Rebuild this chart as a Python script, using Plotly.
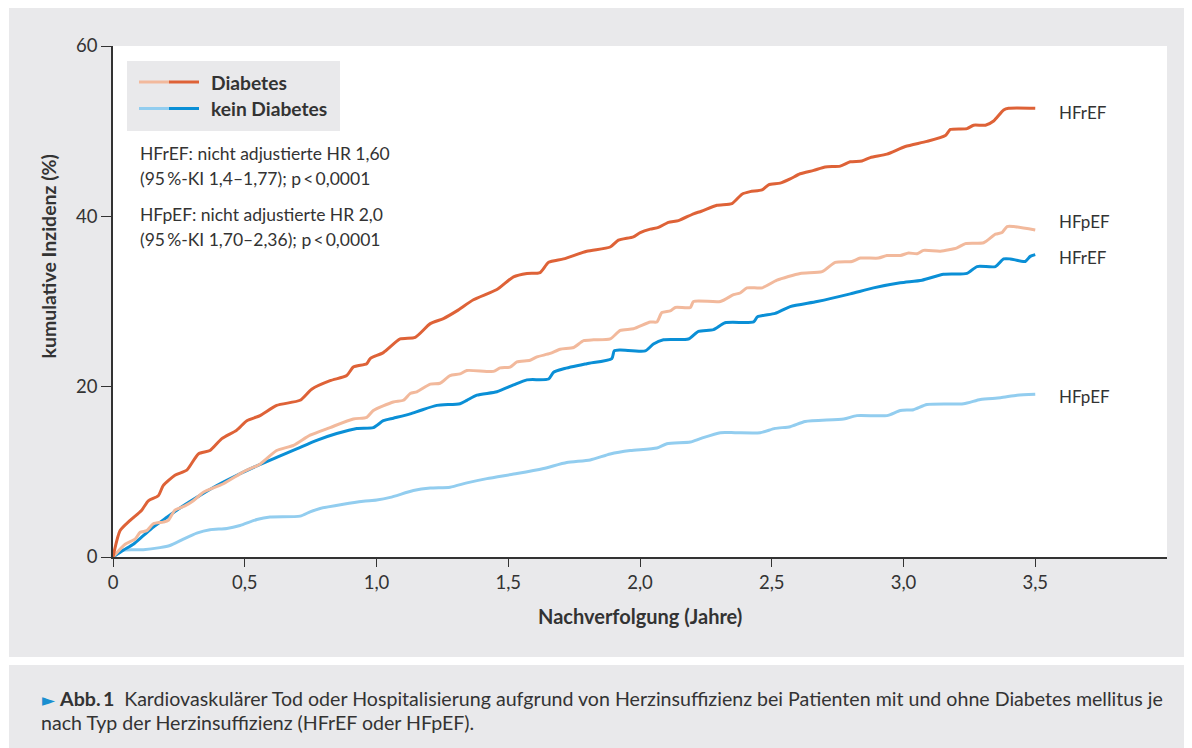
import plotly.graph_objects as go

# ---------------- data ----------------
years_dm_hfref = [0, 0.027, 0.065, 0.109, 0.134, 0.172, 0.191, 0.235, 0.28, 0.324,
                  0.368, 0.413, 0.47, 0.508, 0.558, 0.621, 0.71, 0.754, 0.824, 0.887,
                  0.912, 0.963, 0.976, 1.026, 1.09, 1.147, 1.204, 1.254, 1.305, 1.368,
                  1.457, 1.52, 1.571, 1.621, 1.653, 1.71, 1.798, 1.887, 1.918, 1.975,
                  2.001, 2.039, 2.07, 2.108, 2.146, 2.203, 2.233, 2.292, 2.349, 2.387,
                  2.418, 2.463, 2.488, 2.532, 2.57, 2.608, 2.659, 2.703, 2.76, 2.798,
                  2.842, 2.874, 2.937, 3.007, 3.089, 3.159, 3.178, 3.241, 3.266, 3.311,
                  3.342, 3.38, 3.399, 3.5]
inc_dm_hfref = [0, 3.1, 4.3, 5.5, 6.6, 7.2, 8.4, 9.6, 10.2, 12.1,
                12.5, 13.9, 14.9, 16.0, 16.6, 17.8, 18.4, 19.7, 20.7, 21.3,
                22.3, 22.7, 23.3, 24.0, 25.6, 25.8, 27.4, 28.0, 28.9, 30.2,
                31.4, 32.9, 33.3, 33.4, 34.6, 35.0, 35.9, 36.4, 37.2, 37.6,
                38.1, 38.5, 38.7, 39.3, 39.5, 40.3, 40.6, 41.3, 41.5, 42.6,
                42.9, 43.1, 43.7, 43.9, 44.4, 45.0, 45.4, 45.8, 45.9, 46.4,
                46.5, 46.9, 47.3, 48.2, 48.8, 49.5, 50.2, 50.3, 50.7, 50.7,
                51.2, 52.5, 52.7, 52.7]

years_dm_hfpef = [0, 0.046, 0.084, 0.103, 0.128, 0.153, 0.191, 0.21, 0.235, 0.273,
                  0.305, 0.343, 0.419, 0.495, 0.558, 0.621, 0.685, 0.748, 0.824, 0.912,
                  0.963, 0.988, 1.064, 1.102, 1.128, 1.153, 1.204, 1.241, 1.279, 1.317,
                  1.343, 1.444, 1.469, 1.507, 1.533, 1.583, 1.609, 1.659, 1.697, 1.748,
                  1.786, 1.824, 1.887, 1.925, 1.975, 2.039, 2.064, 2.083, 2.115, 2.134,
                  2.191, 2.203, 2.305, 2.355, 2.38, 2.406, 2.463, 2.52, 2.608, 2.691,
                  2.741, 2.804, 2.836, 2.905, 2.937, 2.988, 3.019, 3.051, 3.076, 3.14,
                  3.203, 3.235, 3.304, 3.349, 3.374, 3.393, 3.418, 3.5]
inc_dm_hfpef = [0, 1.5, 2.1, 2.9, 3.1, 3.9, 4.1, 4.3, 5.5, 6.0,
                6.6, 7.6, 8.6, 10.0, 10.9, 12.5, 13.1, 14.3, 15.2, 16.2,
                16.4, 17.2, 18.2, 18.4, 19.2, 19.4, 20.3, 20.4, 21.3, 21.5,
                21.9, 21.8, 22.2, 22.3, 22.9, 23.1, 23.5, 23.9, 24.4, 24.6,
                25.4, 25.5, 25.6, 26.6, 26.8, 27.6, 27.6, 28.7, 28.9, 29.3,
                29.3, 30.0, 30.0, 30.8, 31.0, 31.6, 31.6, 32.5, 33.3, 33.5,
                34.6, 34.7, 35.1, 35.1, 35.4, 35.4, 35.7, 35.6, 36.0, 35.9,
                36.3, 36.8, 36.9, 37.9, 38.1, 38.8, 38.8, 38.4]

years_nodm_hfref = [0, 0.039, 0.077, 0.115, 0.153, 0.197, 0.242, 0.318, 0.394, 0.47,
                    0.546, 0.621, 0.697, 0.773, 0.849, 0.925, 0.988, 1.026, 1.064, 1.128,
                    1.166, 1.229, 1.317, 1.343, 1.381, 1.457, 1.52, 1.571, 1.653, 1.672,
                    1.71, 1.798, 1.893, 1.902, 1.925, 2.02, 2.051, 2.089, 2.184, 2.222,
                    2.279, 2.323, 2.431, 2.446, 2.513, 2.57, 2.672, 2.798, 2.886, 2.988,
                    3.07, 3.152, 3.241, 3.279, 3.349, 3.38, 3.405, 3.462, 3.481, 3.5]
inc_nodm_hfref = [0, 0.8, 1.5, 2.5, 3.5, 4.5, 5.5, 7.0, 8.4, 9.6,
                  10.7, 11.7, 12.7, 13.7, 14.5, 15.1, 15.2, 16.0, 16.3, 16.8,
                  17.2, 17.8, 18.0, 18.4, 19.0, 19.4, 20.2, 20.8, 20.9, 21.7,
                  22.1, 22.7, 23.3, 24.2, 24.3, 24.2, 25.0, 25.5, 25.6, 26.5,
                  26.7, 27.5, 27.6, 28.2, 28.6, 29.4, 30.0, 30.9, 31.6, 32.2,
                  32.5, 33.2, 33.3, 34.1, 34.1, 35.0, 35.0, 34.7, 35.3, 35.5]

years_nodm_hfpef = [0, 0.039, 0.115, 0.178, 0.216, 0.267, 0.318, 0.368, 0.432, 0.482,
                    0.546, 0.596, 0.71, 0.748, 0.786, 0.874, 0.95, 1.001, 1.052, 1.14,
                    1.204, 1.279, 1.343, 1.419, 1.533, 1.634, 1.722, 1.811, 1.887, 1.963,
                    2.064, 2.102, 2.191, 2.229, 2.305, 2.361, 2.456, 2.513, 2.57, 2.627,
                    2.773, 2.823, 2.937, 2.988, 3.038, 3.089, 3.228, 3.292, 3.368, 3.431,
                    3.5]
inc_nodm_hfpef = [0, 0.8, 0.85, 1.1, 1.35, 2.1, 2.8, 3.2, 3.35, 3.7,
                  4.4, 4.7, 4.8, 5.3, 5.7, 6.2, 6.55, 6.7, 7.0, 7.8,
                  8.1, 8.2, 8.7, 9.2, 9.8, 10.4, 11.1, 11.4, 12.1, 12.5,
                  12.8, 13.3, 13.5, 13.9, 14.6, 14.6, 14.6, 15.1, 15.3, 15.9,
                  16.2, 16.6, 16.6, 17.2, 17.3, 17.9, 18.0, 18.5, 18.7, 19.0,
                  19.1]

x_tickvals = [0, 0.5, 1.0, 1.5, 2.0, 2.5, 3.0, 3.5]
x_ticktext = ["0", "0,5", "1,0", "1,5", "2,0", "2,5", "3,0", "3,5"]
y_tickvals = [0, 20, 40, 60]
y_ticktext = ["0", "20", "40", "60"]

legend_labels = ["Diabetes", "kein Diabetes"]
end_labels = ["HFrEF", "HFpEF", "HFrEF", "HFpEF"]
stats_lines = ["HFrEF: nicht adjustierte HR 1,60",
               "(95\u2009%-KI 1,4\u20131,77); p\u2009<\u20090,0001",
               "HFpEF: nicht adjustierte HR 2,0",
               "(95\u2009%-KI 1,70\u20132,36); p\u2009<\u20090,0001"]
caption_line1 = ("Kardiovaskulärer Tod oder Hospitalisierung aufgrund von Herzinsuffizienz "
                 "bei Patienten mit und ohne Diabetes mellitus je")
caption_line2 = "nach Typ der Herzinsuffizienz (HFrEF oder HFpEF)."

# ---------------- style ----------------
C_DM_REF = "#de6237"
C_DM_PEF = "#f2b99c"
C_NO_REF = "#0a8fd6"
C_NO_PEF = "#92cdef"
GRAY = "#e9e9eb"
TXT = "#333333"
FONT = "Lato, 'Noto Sans', sans-serif"

# page body adds an 8 px margin; figure is sized/placed to compensate
OFF = 8
W, H = 1184, 740
ML, MR, MT, MB = 105, 25, 38, 191


def fx(px):
    """page x pixel -> paper coordinate"""
    return (px - OFF - ML) / (W - ML - MR)


def fy(py):
    """page y pixel -> paper coordinate"""
    return (H - MB - (py - OFF)) / (H - MT - MB)


fig = go.Figure()
series = [
    (years_nodm_hfpef, inc_nodm_hfpef, C_NO_PEF),
    (years_nodm_hfref, inc_nodm_hfref, C_NO_REF),
    (years_dm_hfpef, inc_dm_hfpef, C_DM_PEF),
    (years_dm_hfref, inc_dm_hfref, C_DM_REF),
]
for xs, ys, col in series:
    fig.add_trace(go.Scatter(x=xs, y=ys, mode="lines",
                             line=dict(color=col, width=3, shape="spline", smoothing=0.6),
                             hoverinfo="skip", showlegend=False))

shapes = [
    dict(type="rect", xref="paper", yref="paper", x0=fx(9), x1=fx(1200), y0=fy(657), y1=fy(8),
         fillcolor=GRAY, line=dict(width=0), layer="below"),
    dict(type="rect", xref="paper", yref="paper", x0=fx(9), x1=fx(1200), y0=fy(760), y1=fy(665),
         fillcolor=GRAY, line=dict(width=0), layer="below"),
    dict(type="rect", xref="paper", yref="paper", x0=0, x1=1, y0=0, y1=1,
         fillcolor="white", line=dict(width=0), layer="below"),
    dict(type="rect", xref="paper", yref="paper", x0=fx(127), x1=fx(340), y0=fy(131), y1=fy(61),
         fillcolor=GRAY, line=dict(width=0), layer="below"),
]
for py, light, dark in [(82, C_DM_PEF, C_DM_REF), (108.5, C_NO_PEF, C_NO_REF)]:
    shapes.append(dict(type="line", xref="paper", yref="paper", x0=fx(139), x1=fx(169.5),
                       y0=fy(py), y1=fy(py), line=dict(color=light, width=3)))
    shapes.append(dict(type="line", xref="paper", yref="paper", x0=fx(169), x1=fx(199),
                       y0=fy(py), y1=fy(py), line=dict(color=dark, width=3)))

ann = []
for lab, py in zip(legend_labels, [82, 108.5]):
    ann.append(dict(text=f"<b>{lab}</b>", xref="paper", yref="paper", x=fx(209), y=fy(py),
                    xanchor="left", yanchor="middle", showarrow=False,
                    font=dict(family=FONT, size=19.2, color=TXT)))
for line, py in zip(stats_lines, [153, 178, 214.5, 239.5]):
    ann.append(dict(text=line, xref="paper", yref="paper", x=fx(138), y=fy(py),
                    xanchor="left", yanchor="middle", showarrow=False,
                    font=dict(family=FONT, size=17.5, color=TXT)))
end_series = [(inc_dm_hfref, -4), (inc_dm_hfpef, 8), (inc_nodm_hfref, -3), (inc_nodm_hfpef, -2)]
for lab, (ys, shift) in zip(end_labels, end_series):
    ann.append(dict(text=lab, x=3.5, y=ys[-1], xref="x", yref="y", xanchor="left",
                    yanchor="middle", xshift=22, yshift=shift, showarrow=False,
                    font=dict(family=FONT, size=17, color=TXT)))
ann.append(dict(text="<b>kumulative Inzidenz (%)</b>", xref="paper", yref="paper",
                x=fx(47.5), y=fy(257), xanchor="center", yanchor="middle", textangle=-90,
                showarrow=False, font=dict(family=FONT, size=19.5, color=TXT)))
ann.append(dict(text="<b>Nachverfolgung (Jahre)</b>", xref="paper", yref="paper",
                x=fx(639.5), y=fy(616), xanchor="center", yanchor="middle",
                showarrow=False, font=dict(family=FONT, size=20, color=TXT)))
ann.append(dict(text="<span style='color:#1a8fd0;font-family:DejaVu Sans;font-size:17px'>\u25BA</span>"
                " <b>Abb.\u20091</b>\u2002" + caption_line1,
                xref="paper", yref="paper", x=fx(40), y=fy(698), xanchor="left", yanchor="middle",
                showarrow=False, font=dict(family=FONT, size=19.6, color=TXT)))
ann.append(dict(text=caption_line2, xref="paper", yref="paper", x=fx(39), y=fy(722),
                xanchor="left", yanchor="middle", showarrow=False,
                font=dict(family=FONT, size=19.6, color=TXT)))

fig.update_layout(
    width=W, height=H,
    margin=dict(l=ML, r=MR, t=MT, b=MB, pad=0),
    paper_bgcolor="white", plot_bgcolor="white",
    shapes=shapes, annotations=ann, showlegend=False,
    font=dict(family=FONT, color=TXT),
    xaxis=dict(range=[0, 4.0], tickvals=x_tickvals, ticktext=x_ticktext,
               ticks="outside", ticklen=8, tickwidth=1.3, tickcolor=TXT,
               showline=True, linecolor=TXT, linewidth=1.6, showgrid=False, zeroline=False,
               tickfont=dict(family=FONT, size=18.5, color=TXT), fixedrange=True),
    yaxis=dict(range=[0, 60], tickvals=y_tickvals, ticktext=y_ticktext,
               ticks="outside", ticklen=10, tickwidth=1.3, tickcolor=TXT,
               showline=True, linecolor=TXT, linewidth=1.6, showgrid=False, zeroline=False,
               tickfont=dict(family=FONT, size=18.5, color=TXT), fixedrange=True),
)

fig.write_html("out.html")
